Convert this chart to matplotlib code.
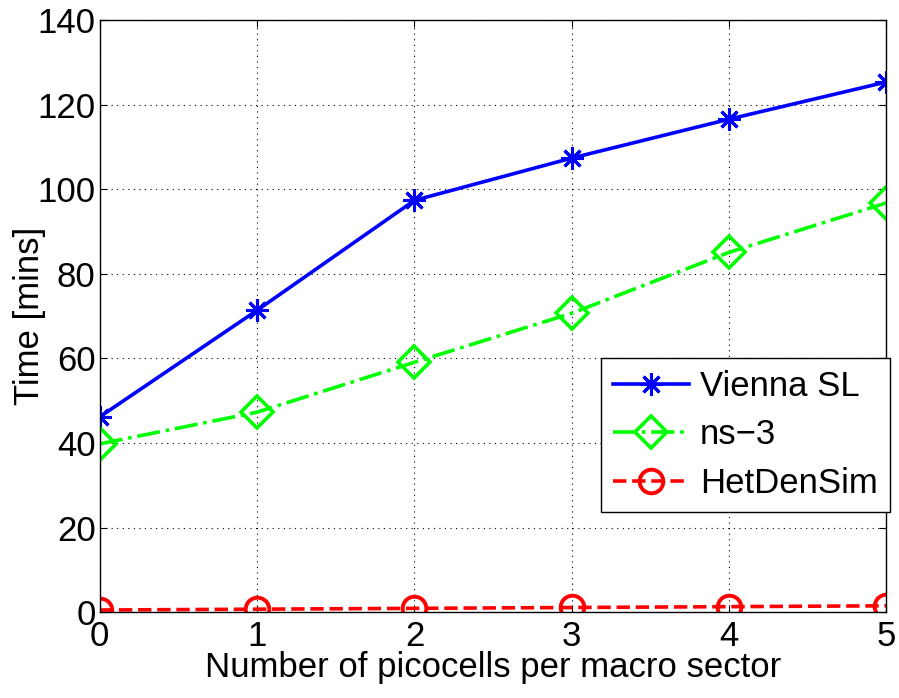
import numpy as np
import matplotlib
matplotlib.use("Agg")
import matplotlib.pyplot as plt

plt.rcParams['font.family'] = ['Liberation Sans', 'DejaVu Sans']

picocells = [0, 1, 2, 3, 4, 5]
vienna = [46.2, 71.4, 97.4, 107.4, 116.6, 125.4]
ns3 = [39.8, 47.3, 59.1, 70.7, 85.1, 96.8]
hetdensim = [0.5, 0.7, 0.9, 1.1, 1.3, 1.5]

fig = plt.figure(figsize=(8.99, 6.98), dpi=100)
ax = fig.add_axes([0.111, 0.123, 0.875, 0.848])

ax.plot(picocells, vienna, color='#0000ff', lw=2.6, marker=(8, 2, 0),
        ms=16, mew=2.2, label='Vienna SL')
ax.plot(picocells, ns3, color='#00ff00', lw=2.6, ls='-.', marker='D',
        ms=16, mew=2.6, mfc='none', label='ns\u22123')
ax.plot(picocells, hetdensim, color='#ff0000', lw=2.6, ls='--', marker='o',
        ms=17, mew=2.8, mfc='none', label='HetDenSim')

ax.set_xlim(0, 5)
ax.set_ylim(0, 140)
ax.set_xticks(picocells)
ax.set_yticks(np.arange(0, 141, 20))
ax.grid(True, color='black', ls=(0, (1, 4)), lw=0.8)
ax.tick_params(direction='in', top=True, right=True, labelsize=25, length=5, pad=3)
ax.tick_params(axis='x', pad=6)
for s in ax.spines.values():
    s.set_linewidth(1.0)
ax.set_xlabel('Number of picocells per macro sector', fontsize=25, labelpad=-2)
ax.set_ylabel('Time [mins]', fontsize=25, labelpad=-6)

leg = ax.legend(loc='lower right', bbox_to_anchor=(1.004, 0.169), fontsize=25,
                fancybox=False, framealpha=1, edgecolor='black',
                handlelength=2.2, borderpad=0.35, labelspacing=0.45,
                handletextpad=0.3, borderaxespad=0)
leg.get_frame().set_linewidth(1.0)

fig.savefig('out.png', dpi=100)
